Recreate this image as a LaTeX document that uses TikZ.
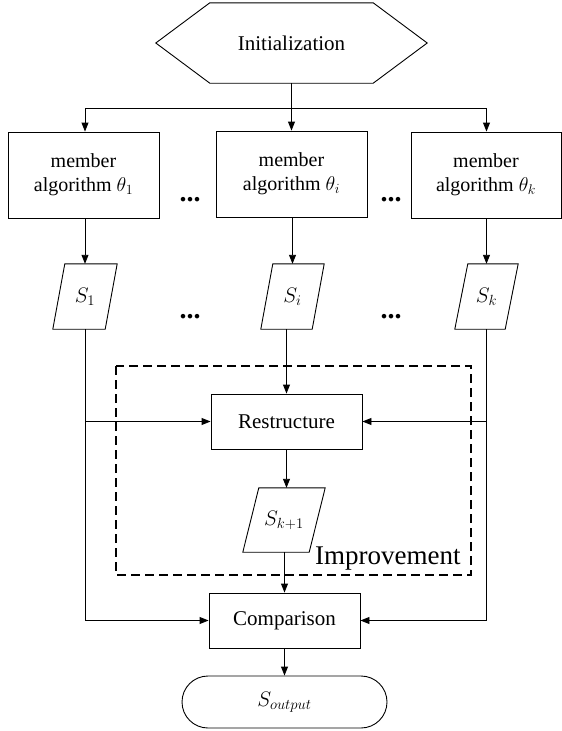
\RequirePackage{fix-cm}
\documentclass[tikz,border=0pt]{standalone}
\usepackage{fontspec}
\setmainfont{Liberation Serif}
\usetikzlibrary{arrows.meta}
\newcommand\drawpara[2]{\draw[line width=0.9pt] ([xshift=-#2/2]#1.south west) -- ([xshift=#2/2]#1.north west) -- ([xshift=#2/2]#1.north east) -- ([xshift=-#2/2]#1.south east) -- cycle;}
\tikzset{
  box/.style={draw, line width=0.9pt, minimum width=151pt, minimum height=86pt, align=center, inner sep=0pt, font=\fontsize{20}{24}\selectfont},
  pbox/.style={draw, line width=0.9pt, minimum width=151pt, minimum height=55pt, inner sep=0pt, font=\fontsize{21}{25}\selectfont},
  para/.style={minimum height=65pt, inner sep=0pt, font=\fontsize{21}{24}\selectfont},
  dots/.style={anchor=base, inner sep=0pt, font=\fontsize{28}{30}\selectfont\bfseries},
  conn/.style={line width=0.9pt},
  arr/.style={line width=0.9pt, -{Triangle[length=9pt,width=7pt]}},
}
\begin{document}
\begin{tikzpicture}[x=1pt,y=-1pt]
\useasboundingbox (0,0) rectangle (562,731);
% Initialization hexagon
\node[minimum width=271pt, minimum height=80pt, inner sep=0pt, font=\fontsize{21}{25}\selectfont] (init) at (291.5,43) {Initialization};
\draw[line width=0.9pt] (init.west) -- ([xshift=54pt]init.north west) -- ([xshift=-54pt]init.north east) -- (init.east) -- ([xshift=-54pt]init.south east) -- ([xshift=54pt]init.south west) -- cycle;
% member boxes
\node[box] (b1) at (83.5,175) {member\\algorithm $\theta_1$};
\node[box] (b2) at (291.5,174) {member\\algorithm $\theta_i$};
\node[box, minimum width=150pt] (b3) at (486,175) {member\\algorithm $\theta_k$};
\node[dots] (d1) at (190,201) {...};
\node[dots] (d2) at (391,201) {...};
% solutions
\node[para, minimum width=52pt] (S1) at (85,296.5) {$S_1$};
\node[para, minimum width=51pt] (Si) at (292.5,296.5) {$S_i$};
\node[para, minimum width=50pt] (Sk) at (486.5,296.5) {$S_k$};
\drawpara{S1}{12}
\drawpara{Si}{12}
\drawpara{Sk}{13}
\node[dots] (d3) at (190,318) {...};
\node[dots] (d4) at (391,318) {...};
% improvement region
\draw[line width=1.6pt, dash pattern=on 9pt off 5pt] (116,366) rectangle (471,575);
\node[anchor=base west, inner sep=0pt, font=\fontsize{27}{30}\selectfont] (imp) at (315,564) {Improvement};
\node[pbox] (restr) at (286.5,421.5) {Restructure};
\node[para, minimum width=66pt, minimum height=64pt] (Sk1) at (284,520) {$S_{k+1}$};
\drawpara{Sk1}{16}
\node[pbox] (comp) at (284.5,620.5) {Comparison};
\node[draw, line width=0.9pt, rounded corners=26pt, minimum width=205pt, minimum height=52pt, inner sep=0pt, font=\fontsize{21}{24}\selectfont] (out) at (284.5,702) {$S_{output}$};
% connectors
\coordinate (split) at (291.5,108);
\draw[conn] (init.south) -- (split);
\draw[arr] (split) -| (b1.north -| S1.north);
\draw[arr] (split) -- (b2.north);
\draw[arr] (split) -| (b3.north -| Sk.north);
\draw[arr] (S1.north |- b1.south) -- (S1.north);
\draw[arr] (Si.north |- b2.south) -- (Si.north);
\draw[arr] (Sk.north |- b3.south) -- (Sk.north);
\draw[arr] (restr.north |- Si.south) -- (restr.north);
\draw[arr] (S1.south) |- (comp.west);
\draw[arr] (S1.south |- restr.west) -- (restr.west);
\draw[arr] (Sk.south) |- (comp.east);
\draw[arr] (Sk.south |- restr.east) -- (restr.east);
\draw[arr] (restr.south) -- (restr.south |- Sk1.north);
\draw[arr] (comp.north |- Sk1.south) -- (comp.north);
\draw[arr] (comp.south) -- (out.north);
\end{tikzpicture}
\end{document}
